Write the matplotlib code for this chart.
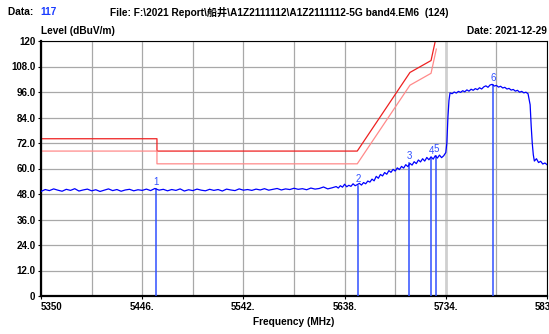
"""
plot.py
Radiated emission scan, 5G band 4 (5350 - 5830 MHz)
Output: out.png
"""

import numpy as np
import matplotlib
matplotlib.use("Agg")
import matplotlib.pyplot as plt

plt.rcParams.update({
    "font.family":    ["Liberation Sans", "Noto Sans CJK SC", "DejaVu Sans"],
    "font.size":      7,
    "font.weight":    "bold",
    "axes.linewidth": 1.0,
})

# ── Trace (dBuV/m) ───────────────────────────────────────────
BASE_FREQ = list(range(5350, 5631, 4))
BASE_LEVEL = [
    49.2, 50.1, 49.6, 50.4, 49.8, 49.3, 50.2, 49.7, 50.5, 49.4, 49.9, 50.3, 49.5,
    50.0, 49.2, 49.8, 50.4, 49.6, 50.1, 49.3, 49.9, 50.2, 49.5, 50.0, 49.7,
    50.3, 49.6, 50.6, 49.8, 50.2, 49.5, 50.1, 49.7, 50.4, 49.4, 50.0, 49.6, 50.3,
    49.8, 49.5, 50.2, 49.7, 50.1, 49.4, 50.3, 49.9, 49.6, 50.4, 49.8, 50.1,
    49.7, 50.3, 49.9, 50.5, 49.8, 50.2, 50.6, 49.9, 50.4, 50.1, 50.7, 50.2, 50.5,
    50.0, 50.8, 50.3, 50.6, 51.3, 50.4, 50.9, 51.5,
]
RISE_FREQ = list(range(5632, 5735, 2))
RISE_LEVEL = [
    50.8, 51.9, 51.2, 52.6, 51.4, 52.1, 51.6, 52.8, 51.9, 52.4, 53.0, 52.2, 53.4,
    52.8, 54.1, 53.6, 55.0, 54.2, 56.3, 55.4, 57.2, 56.5, 58.1, 57.3, 59.0, 58.2,
    59.6, 58.8, 60.3, 59.5, 61.0, 60.2, 61.8, 60.9, 62.4, 61.6, 63.2, 62.3, 64.0,
    63.1, 64.6, 63.5, 65.2, 64.1, 65.5, 64.4, 66.0, 64.9, 66.3, 65.1, 66.0, 67.5,
]
EDGE_FREQ = [5735, 5736, 5737, 5738]
EDGE_LEVEL = [72.0, 84.0, 92.0, 95.6]
TOP_FREQ = list(range(5740, 5813, 2))
TOP_LEVEL = [
    95.2, 96.0, 95.5, 96.3, 95.8, 96.6, 96.1, 97.0, 96.4, 97.3, 96.8, 97.6, 97.1,
    98.0, 97.4, 98.4, 98.9, 98.2, 99.3, 99.6, 98.8, 99.1, 98.3, 98.7, 97.9, 98.2,
    97.4, 97.7, 96.9, 97.2, 96.4, 96.8, 95.9, 96.3, 95.6, 95.9, 95.2,
]
TAIL_FREQ = [5814, 5815, 5816, 5817, 5818, 5820, 5822, 5824, 5826, 5828, 5830]
TAIL_LEVEL = [90.0, 80.0, 72.0, 66.5, 63.5, 64.6, 62.8, 63.4, 62.1, 62.6, 61.8]

# ── Limit lines ──────────────────────────────────────────────
LIMIT_PK_FREQ = [5350, 5460, 5460, 5650, 5700, 5720, 5725]
LIMIT_PK = [74.0, 74.0, 68.2, 68.2, 105.2, 110.8, 122.2]
LIMIT_AV_FREQ = [5350, 5460, 5460, 5650, 5700, 5720, 5725]
LIMIT_AV = [68.2, 68.2, 62.2, 62.2, 99.2, 104.8, 116.2]

# ── Markers ──────────────────────────────────────────────────
MARK_ID = ["1", "2", "3", "4", "5", "6"]
MARK_FREQ = [5459.5, 5650.5, 5699.5, 5720.0, 5724.5, 5779.0]
MARK_LEVEL = [50.5, 52.0, 62.5, 65.0, 66.0, 99.5]

X_TICKS = [5350, 5446, 5542, 5638, 5734, 5830]
X_TICK_LABELS = ["5350", "5446.", "5542.", "5638.", "5734.", "5830."]
Y_TICKS = [0, 12, 24, 36, 48, 60, 72, 84, 96, 108, 120]
Y_TICK_LABELS = ["0", "12.0", "24.0", "36.0", "48.0", "60.0", "72.0",
                 "84.0", "96.0", "108.0", "120"]


def main():
    W, H = 549, 334
    fig = plt.figure(figsize=(W / 100, H / 100), dpi=100)
    ax = fig.add_axes([41 / W, (H - 296) / H, 506 / W, 255 / H])

    freq = BASE_FREQ + RISE_FREQ + EDGE_FREQ + TOP_FREQ + TAIL_FREQ
    level = BASE_LEVEL + RISE_LEVEL + EDGE_LEVEL + TOP_LEVEL + TAIL_LEVEL

    # grid
    for xv in np.arange(5350, 5831, 48):
        if xv == 5734:
            ax.axvline(xv, color="#cfcfcf", lw=2.0, zorder=0)
        else:
            ax.axvline(xv, color="#a8a8a8", lw=0.9, zorder=0)
    for yv in Y_TICKS:
        ax.axhline(yv, color="#a8a8a8", lw=0.9, zorder=0)

    # limits
    ax.plot(LIMIT_PK_FREQ, LIMIT_PK, color="#ee2020", lw=0.9, zorder=2)
    ax.plot(LIMIT_AV_FREQ, LIMIT_AV, color="#ff8a8a", lw=0.9, zorder=2)

    # markers
    for mid, mf, ml in zip(MARK_ID, MARK_FREQ, MARK_LEVEL):
        ax.plot([mf, mf], [0, ml], color="#3050ff", lw=1.1, zorder=3)
        ax.text(mf, ml + 0.8, mid, color="#3050ff", fontsize=7,
                fontweight="normal", ha="center", va="bottom", zorder=5)

    ax.plot(freq, level, color="#0000ff", lw=0.9, zorder=4)

    ax.set_xlim(5350, 5830)
    ax.set_ylim(0, 120)
    ax.set_xticks(X_TICKS)
    ax.set_xticklabels(X_TICK_LABELS)
    ax.set_yticks(Y_TICKS)
    ax.set_yticklabels(Y_TICK_LABELS)
    ax.get_xticklabels()[0].set_horizontalalignment("left")
    ax.tick_params(axis="both", length=2, width=0.8, pad=2, labelsize=7)
    for side in ("left", "bottom"):
        ax.spines[side].set_linewidth(1.6)
    for side in ("top", "right"):
        ax.spines[side].set_linewidth(0.8)

    # header texts
    hs = 7.3
    fig.text(8 / W, 1 - 12 / H, "Data: ", ha="left", va="center", fontsize=hs)
    fig.text(40 / W, 1 - 12 / H, "117", color="#1a3cff", ha="left",
             va="center", fontsize=hs)
    fig.text(110 / W, 1 - 12 / H,
             "File: F:\\2021 Report\\船井\\A1Z2111112\\A1Z2111112-5G band4.EM6  (124)",
             ha="left", va="center", fontsize=hs)
    fig.text(41 / W, 1 - 31 / H, "Level (dBuV/m)", ha="left", va="center",
             fontsize=hs)
    fig.text(547 / W, 1 - 31 / H, "Date: 2021-12-29", ha="right", va="center",
             fontsize=hs)
    fig.text(294 / W, 1 - 322 / H, "Frequency (MHz)", ha="center",
             va="center", fontsize=hs)

    fig.savefig("out.png", dpi=100)
    plt.close(fig)


if __name__ == "__main__":
    main()
